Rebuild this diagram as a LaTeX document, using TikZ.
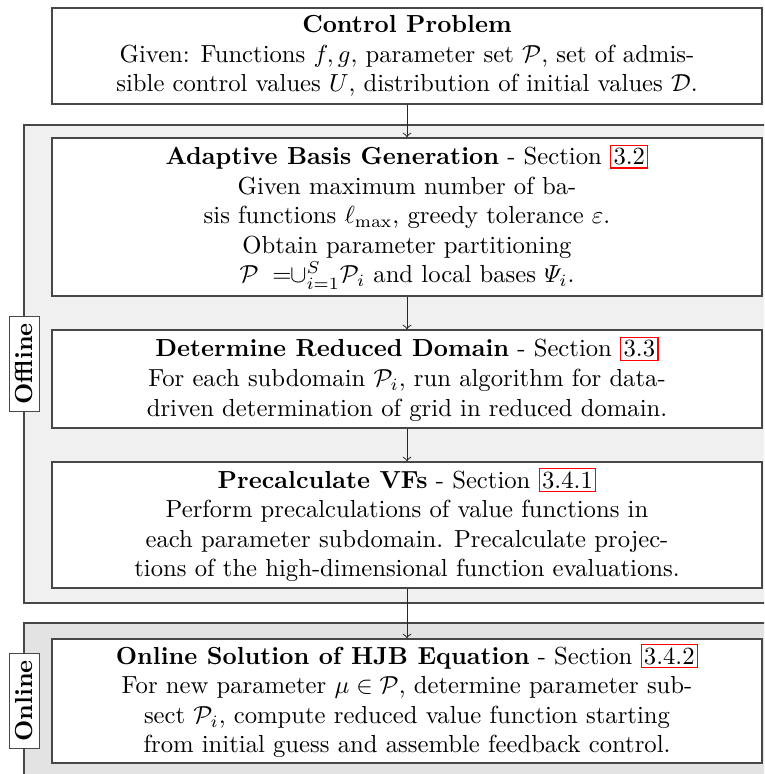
\documentclass[tikz,border=0pt]{standalone}
\usepackage{amsmath,amssymb}
\newcommand{\secref}[1]{{\setlength{\fboxsep}{0.9pt}\setlength{\fboxrule}{0.5pt}\fcolorbox{red}{white}{#1}}}
\tikzset{every picture/.style={line width=0.6pt}}

\begin{document}
\begin{tikzpicture}[x=0.4054pt,y=0.4054pt,yscale=-1,
  stepbox/.style={draw=black!72,fill=white,minimum width=287.8pt,align=center,inner sep=0pt},
  groupbox/.style={draw=black!72},
  phaselabel/.style={draw=black!72,fill=white,rotate=90,font=\bfseries,inner sep=2.6pt,line width=0.5pt},
  flow/.style={->,line width=0.4pt,black!85}]
%set diagram to 764 x 774
\path [use as bounding box,clip] (0,0) rectangle (764,774);

%Shape: Rectangle [offline group]
\draw [groupbox,fill=black!6] (24,125) rectangle (790,603);
%Shape: Rectangle [online group]
\draw [groupbox,fill=black!11] (24,623) rectangle (790,779);

% Text Node
\node [stepbox,minimum height=38.9pt] (ctrl) at (407,56) {\textbf{Control Problem}\\
Given: Functions $f, g$, parameter set $\mathcal{P}$, set of admis-\\
sible control values $U$, distribution of initial values $\mathcal{D}$.};
% Text Node
\node [stepbox,minimum height=64.1pt] (basis) at (407,217) {\textbf{Adaptive Basis Generation} - Section \secref{3.2}\\
Given maximum number of ba-\\
sis functions $\ell_{\max}$, greedy tolerance $\varepsilon$.\\
Obtain parameter partitioning\\
$\mathcal{P}\;=\!\!\cup_{i=1}^{S}\mathcal{P}_i$ and local bases $\varPsi_i$.};
% Text Node
\node [stepbox,minimum height=39.7pt] (domain) at (407,379) {\textbf{Determine Reduced Domain} - Section \secref{3.3}\\
For each subdomain $\mathcal{P}_i$, run algorithm for data-\\
driven determination of grid in reduced domain.};
% Text Node
\node [stepbox,minimum height=51.1pt] (precalc) at (407,525) {\textbf{Precalculate VFs} - Section \secref{3.4.1}\\
Perform precalculations of value functions in\\
each parameter subdomain. Precalculate projec-\\
tions of the high-dimensional function evaluations.};
% Text Node
\node [stepbox,minimum height=50.3pt] (online) at (407,701) {\textbf{Online Solution of HJB Equation} - Section \secref{3.4.2}\\
For new parameter $\mu \in \mathcal{P}$, determine parameter sub-\\
sect $\mathcal{P}_i$, compute reduced value function starting\\
from initial guess and assemble feedback control.};

% Label Node
\node [phaselabel] (offlinelbl) at (24.5,364) {Offline};
% Label Node
\node [phaselabel] (onlinelbl) at (24.5,701) {Online};

%Straight Lines
\draw [flow] (ctrl) -- (basis);
\draw [flow] (basis) -- (domain);
\draw [flow] (domain) -- (precalc);
\draw [flow] (precalc) -- (online);

\end{tikzpicture}
\end{document}
